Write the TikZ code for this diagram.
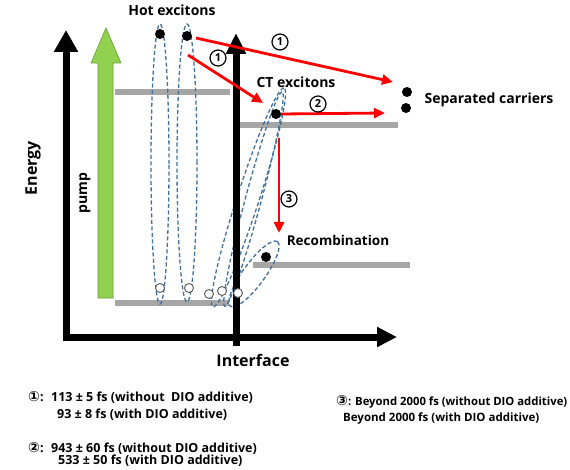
\documentclass[tikz,border=0pt]{standalone}
\usepackage{fontspec}
\setmainfont{Open Sans}
\newfontfamily\symfont{DejaVu Sans}
\usetikzlibrary{arrows.meta}
\definecolor{redA}{HTML}{FF0000}
\definecolor{greyA}{HTML}{A6A6A6}
\definecolor{blueA}{HTML}{41719C}
\definecolor{greenA}{HTML}{92D050}
\definecolor{greenB}{HTML}{6E9C3A}
\newcommand{\fsz}[1]{\fontsize{#1}{#1}\selectfont\bfseries}
\newcommand{\cnum}[1]{{\symfont\fontsize{14}{14}\selectfont #1}}
\begin{document}
\begin{tikzpicture}[x=1pt,y=-1pt,
  axisline/.style={line width=7pt, line join=miter},
  level/.style={line width=6pt, greyA},
  redarrow/.style={line width=2.8pt, redA, -{Triangle[width=10pt,length=11pt]}},
  dotb/.style={circle, fill=black, inner sep=0pt, minimum size=10pt},
  doth/.style={circle, draw=black!65, fill=white, line width=0.9pt, inner sep=0pt, minimum size=9pt},
  exc/.style={blueA, line width=1.3pt, dash pattern=on 4pt off 2.5pt},
  numlab/.style={circle, draw, line width=1.2pt, inner sep=0pt, minimum size=16pt, font=\fsz{11}},
  lab/.style={inner sep=0pt, font=\fsz{14}},
  bottomtxt/.style={inner sep=0pt, anchor=west, font=\fsz{12.5}}]
\useasboundingbox (0,0) rectangle (570,470);
\fill[white] (0,0) rectangle (570,470);

% energy levels
\draw[level] (115,92) -- (230,92);
\draw[level] (115,303) -- (229,303);
\draw[level] (240,125) -- (398,125);
\draw[level] (253,265) -- (410,265);

% pump arrow
\filldraw[fill=greenA, draw=greenB, line width=0.6pt]
  (98,298) -- (98,63) -- (91,63) -- (106,28) -- (121,63) -- (113,63) -- (113,298) -- cycle;
\node[rotate=90, font=\fsz{14}] (pump) at (85,193) {pump};

% exciton ellipses
\draw[exc] (160,164) ellipse [x radius=9pt, y radius=140pt];
\draw[exc] (187,163) ellipse [x radius=10pt, y radius=139pt];
\draw[exc, rotate around={72:(248.5,197.5)}] (248.5,197.5) ellipse [x radius=115pt, y radius=11pt];
\draw[exc, rotate around={75:(253.5,199)}] (253.5,199) ellipse [x radius=111pt, y radius=8pt];
\draw[exc, rotate around={54:(254,274)}] (254,274) ellipse [x radius=40pt, y radius=11pt];

% axes
\coordinate (etop) at (66,30);
\coordinate (origin) at (66,337);
\coordinate (xend) at (397,337);
\coordinate (ibot) at (236,346);
\coordinate (itop) at (236,33);
\draw[axisline, {Triangle[width=23pt,length=22pt]}-{Triangle[width=19pt,length=20pt]}] (etop) -- (origin) -- (xend);
\draw[axisline, -{Triangle[width=19pt,length=21pt]}] (ibot) -- (itop);
\node[rotate=90, font=\fsz{16}] (energy) at (33,168) {Energy};
\node[font=\fsz{16}] (interface) at (253,360) {Interface};

% carriers
\node[dotb] (h1) at (160,34) {};
\node[dotb] (h2) at (187,36) {};
\node[dotb] (ct) at (276,114) {};
\node[dotb] (s1) at (407,92) {};
\node[dotb] (s2) at (406,108) {};
\node[dotb] (rc) at (266,257) {};
\node[doth] (o1) at (160,288) {};
\node[doth] (o2) at (189,288) {};
\node[doth] (o3) at (209,294) {};
\node[doth] (o4) at (222,291) {};
\node[doth] (o5) at (238,293) {};

% red transfer arrows
\coordinate (a1e) at (393,82);
\coordinate (a2s) at (188,55);
\coordinate (a2e) at (263,103);
\coordinate (a3e) at (385,113);
\coordinate (a4s) at (279,138);
\coordinate (a4e) at (279,233);
\draw[redarrow, shorten <=4pt] (h2) -- (a1e);
\draw[redarrow] (a2s) -- (a2e);
\draw[redarrow] (ct.east) -- (a3e);
\draw[redarrow] (a4s) -- (a4e);

\node[numlab] (n1a) at (280,42) {1};
\node[numlab] (n1b) at (218,58) {1};
\node[numlab] (n2) at (318,104) {2};
\node[numlab] (n3) at (289,199) {3};

% labels
\node[lab] (hot) at (172,10) {Hot excitons};
\node[lab] (ctl) at (296,82) {CT excitons};
\node[lab] (sep) at (489,100) {Separated carriers};
\node[lab, font=\fsz{13.5}] (rec) at (338,240) {Recombination};

% bottom texts
\node[bottomtxt] (l1) at (28,397) {\cnum{①}:~ 113 ± 5 fs (without~ DIO additive)};
\node[bottomtxt] (l2) at (57,415) {93 ± 8 fs (with DIO additive)};
\node[bottomtxt] (l3) at (28,448) {\cnum{②}:~ 943 ± 60 fs (without DIO additive)};
\node[bottomtxt] (l4) at (58,461) {533 ± 50 fs (with DIO additive)};
\node[bottomtxt, font=\fsz{11.3}] (r1) at (336,402) {\cnum{③}: Beyond 2000 fs (without DIO additive)};
\node[bottomtxt, font=\fsz{11.5}] (r2) at (343,418) {Beyond 2000 fs (with DIO additive)};
\end{tikzpicture}
\end{document}
